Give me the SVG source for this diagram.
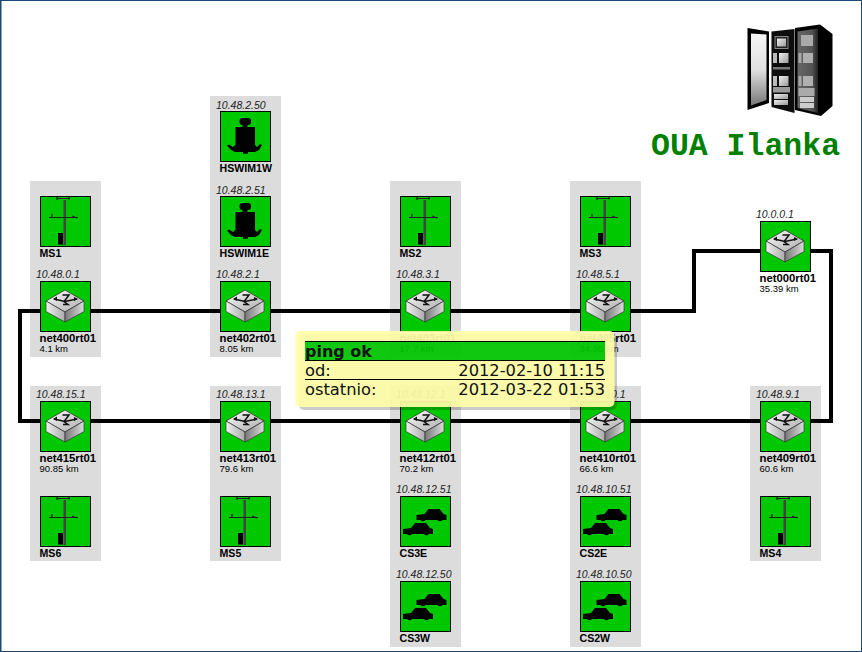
<svg xmlns="http://www.w3.org/2000/svg" width="862" height="652" viewBox="0 0 862 652">
<style>
.bg{fill:#dcdcdc}
.box{fill:#00c800;stroke:#000;stroke-width:1}
.ip{font:italic 10.5px "Liberation Sans",Arial,sans-serif;fill:#222}
.nm{font:bold 11.3px "Liberation Sans",Arial,sans-serif;fill:#000}
.up{font-size:10.6px}
.km{font:9.5px "Liberation Sans",Arial,sans-serif;fill:#000}
.link{fill:none;stroke:#000;stroke-width:4}
.tt{font:16.300px "DejaVu Sans",sans-serif;fill:#111}
.ttb{font-weight:bold;font-size:16px}
</style>
<defs>
<linearGradient id="rt" x1="0" y1="0" x2="1" y2="1"><stop offset="0" stop-color="#fff"/><stop offset="1" stop-color="#a8a8a8"/></linearGradient>
<linearGradient id="rl" x1="0" y1="0" x2="1" y2="0"><stop offset="0" stop-color="#f0f0f0"/><stop offset="1" stop-color="#aaa"/></linearGradient>
<linearGradient id="rr" x1="0" y1="0" x2="1" y2="0"><stop offset="0" stop-color="#777"/><stop offset="1" stop-color="#ddd"/></linearGradient>
<linearGradient id="door" x1="0" y1="0" x2="0" y2="1"><stop offset="0" stop-color="#f6f6f6"/><stop offset="0.5" stop-color="#e0e0e0"/><stop offset="1" stop-color="#777"/></linearGradient>
<linearGradient id="unit" x1="0" y1="0" x2="1" y2="1"><stop offset="0" stop-color="#f0f0f0"/><stop offset="1" stop-color="#9a9a9a"/></linearGradient>
<linearGradient id="face" x1="0" y1="0" x2="1" y2="0"><stop offset="0" stop-color="#666"/><stop offset=".7" stop-color="#555"/><stop offset="1" stop-color="#222"/></linearGradient>
<filter id="soft" x="-5%" y="-5%" width="110%" height="110%"><feGaussianBlur stdDeviation=".35"/></filter>
<g id="router">
<path d="M6 20 25 9 44 20 25 31Z" fill="url(#rt)" stroke="#222" stroke-width=".7"/>
<path d="M6 20 25 31V41L6 30.500Z" fill="url(#rl)" stroke="#333" stroke-width=".7"/>
<path d="M44 20 25 31V41L44 30.500Z" fill="url(#rr)" stroke="#333" stroke-width=".7"/>
<path d="M22.500 14H29L26 18 24 20.500 28 23.500H23M14 18 25 20.500 37 18" stroke="#111" stroke-width="1.500" fill="none"/>
<path d="M13 18 17 15.500 17 20ZM38 18 34 16 34 20Z" fill="#111"/>
</g>
<g id="pole" fill="#222">
<rect x="23.500" y="4" width="2.500" height="45" fill="#444"/>
<path d="M17 2.500H30M9 21.500H38" stroke="#222" stroke-width="1" fill="none"/>
<path d="M17 1V4M29 0.500V3.500M12 18V21M32 20 37 22" stroke="#222" stroke-width="1.300" fill="none"/>
<rect x="18" y="37" width="5" height="11.500" fill="#000"/>
</g>
<g id="scale" fill="#000">
<rect x="19.500" y="7" width="11.500" height="7" rx="3"/>
<rect x="22.500" y="13" width="5" height="4"/>
<path d="M15.500 16H35V34L37 36 40 33 42 34 39 39 35 41H28V42.700H23V41H15L11 39 7 34.500 9 33.500 13 36 15.500 34Z"/>
</g>
<path id="car" d="M0 7 8 6 12 1H23L27 6 30 7V12H26A3 3 0 0 1 21 12H9A3 3 0 0 1 4 12H0Z" fill="#000"/>
<g id="cars"><use href="#car" x="16.500" y="12"/><use href="#car" x="3" y="26"/></g>
</defs>
<rect width="862" height="652" fill="#fff"/>
<path d="M0 .5H862M861.500 0V652M0 651.500H862" fill="none" stroke="#1a4a78" stroke-width="1"/>
<rect x="0" y="0" width="1.500" height="652" fill="#1a4a78"/>
<g id="columns">
<rect class="bg" x="30" y="181" width="71" height="176"/>
<rect class="bg" x="210" y="96" width="71" height="261"/>
<rect class="bg" x="390" y="181" width="71" height="176"/>
<rect class="bg" x="570" y="181" width="71" height="176"/>
<rect class="bg" x="30" y="386" width="71" height="175"/>
<rect class="bg" x="210" y="386" width="71" height="175"/>
<rect class="bg" x="390" y="386" width="71" height="261"/>
<rect class="bg" x="570" y="386" width="71" height="261"/>
<rect class="bg" x="750" y="386" width="71" height="175"/>
</g>
<g id="connectors">
<path class="link" d="M20 311H694V251H831V421H20Z"/>
</g>
<g id="n-hswim1w" transform="translate(220,111)"><rect class="box" x=".5" y=".5" width="50" height="50"/><use href="#scale"/><text class="ip" x="-4" y="-2.500">10.48.2.50</text><text class="nm up" x="-.5" y="61">HSWIM1W</text></g>
<g id="n-hswim1e" transform="translate(220,196)"><rect class="box" x=".5" y=".5" width="50" height="50"/><use href="#scale"/><text class="ip" x="-4" y="-2.500">10.48.2.51</text><text class="nm up" x="-.5" y="61">HSWIM1E</text></g>
<g id="n-ms1" transform="translate(40,196)"><rect class="box" x=".5" y=".5" width="50" height="50"/><use href="#pole"/><text class="nm up" x="-.5" y="61">MS1</text></g>
<g id="n-ms2" transform="translate(400,196)"><rect class="box" x=".5" y=".5" width="50" height="50"/><use href="#pole"/><text class="nm up" x="-.5" y="61">MS2</text></g>
<g id="n-ms3" transform="translate(580,196)"><rect class="box" x=".5" y=".5" width="50" height="50"/><use href="#pole"/><text class="nm up" x="-.5" y="61">MS3</text></g>
<g id="n-net400" transform="translate(40,281)"><rect class="box" x=".5" y=".5" width="50" height="50"/><use href="#router"/><text class="ip" x="-4" y="-3">10.48.0.1</text><text class="nm" x="-.5" y="61">net400rt01</text><text class="km" x="-.5" y="70.500">4.1 km</text></g>
<g id="n-net402" transform="translate(220,281)"><rect class="box" x=".5" y=".5" width="50" height="50"/><use href="#router"/><text class="ip" x="-4" y="-3">10.48.2.1</text><text class="nm" x="-.5" y="61">net402rt01</text><text class="km" x="-.5" y="70.500">8.05 km</text></g>
<g id="n-net403" transform="translate(400,281)"><rect class="box" x=".5" y=".5" width="50" height="50"/><use href="#router"/><text class="ip" x="-4" y="-3">10.48.3.1</text><text class="nm" x="-.5" y="61">net403rt01</text><text class="km" x="-.5" y="70.500">17.7 km</text></g>
<g id="n-net405" transform="translate(580,281)"><rect class="box" x=".5" y=".5" width="50" height="50"/><use href="#router"/><text class="ip" x="-4" y="-3">10.48.5.1</text><text class="nm" x="-.5" y="61">net405rt01</text><text class="km" x="-.5" y="70.500">34.35 km</text></g>
<g id="n-net000" transform="translate(760,221)"><rect class="box" x=".5" y=".5" width="50" height="50"/><use href="#router"/><text class="ip" x="-4" y="-3">10.0.0.1</text><text class="nm" x="-.5" y="61">net000rt01</text><text class="km" x="-.5" y="70.500">35.39 km</text></g>
<g id="n-net415" transform="translate(40,401)"><rect class="box" x=".5" y=".5" width="50" height="50"/><use href="#router"/><text class="ip" x="-4" y="-3">10.48.15.1</text><text class="nm" x="-.5" y="61">net415rt01</text><text class="km" x="-.5" y="70.500">90.85 km</text></g>
<g id="n-net413" transform="translate(220,401)"><rect class="box" x=".5" y=".5" width="50" height="50"/><use href="#router"/><text class="ip" x="-4" y="-3">10.48.13.1</text><text class="nm" x="-.5" y="61">net413rt01</text><text class="km" x="-.5" y="70.500">79.6 km</text></g>
<g id="n-net412" transform="translate(400,401)"><rect class="box" x=".5" y=".5" width="50" height="50"/><use href="#router"/><text class="ip" x="-4" y="-3">10.48.12.1</text><text class="nm" x="-.5" y="61">net412rt01</text><text class="km" x="-.5" y="70.500">70.2 km</text></g>
<g id="n-net410" transform="translate(580,401)"><rect class="box" x=".5" y=".5" width="50" height="50"/><use href="#router"/><text class="ip" x="-4" y="-3">10.48.10.1</text><text class="nm" x="-.5" y="61">net410rt01</text><text class="km" x="-.5" y="70.500">66.6 km</text></g>
<g id="n-net409" transform="translate(760,401)"><rect class="box" x=".5" y=".5" width="50" height="50"/><use href="#router"/><text class="ip" x="-4" y="-3">10.48.9.1</text><text class="nm" x="-.5" y="61">net409rt01</text><text class="km" x="-.5" y="70.500">60.6 km</text></g>
<g id="n-ms6" transform="translate(40,496)"><rect class="box" x=".5" y=".5" width="50" height="50"/><use href="#pole"/><text class="nm up" x="-.5" y="61">MS6</text></g>
<g id="n-ms5" transform="translate(220,496)"><rect class="box" x=".5" y=".5" width="50" height="50"/><use href="#pole"/><text class="nm up" x="-.5" y="61">MS5</text></g>
<g id="n-ms4" transform="translate(760,496)"><rect class="box" x=".5" y=".5" width="50" height="50"/><use href="#pole"/><text class="nm up" x="-.5" y="61">MS4</text></g>
<g id="n-cs3e" transform="translate(400,496)"><rect class="box" x=".5" y=".5" width="50" height="50"/><use href="#cars"/><text class="ip" x="-4" y="-3">10.48.12.51</text><text class="nm up" x="-.5" y="61">CS3E</text></g>
<g id="n-cs3w" transform="translate(400,581)"><rect class="box" x=".5" y=".5" width="50" height="50"/><use href="#cars"/><text class="ip" x="-4" y="-3">10.48.12.50</text><text class="nm up" x="-.5" y="61">CS3W</text></g>
<g id="n-cs2e" transform="translate(580,496)"><rect class="box" x=".5" y=".5" width="50" height="50"/><use href="#cars"/><text class="ip" x="-4" y="-3">10.48.10.51</text><text class="nm up" x="-.5" y="61">CS2E</text></g>
<g id="n-cs2w" transform="translate(580,581)"><rect class="box" x=".5" y=".5" width="50" height="50"/><use href="#cars"/><text class="ip" x="-4" y="-3">10.48.10.50</text><text class="nm up" x="-.5" y="61">CS2W</text></g>
<g id="rack" filter="url(#soft)">
<path d="M747.500 28 769 31.500V103L747.500 110Z" fill="#000"/>
<path d="M751 33.500 766.500 34.500V100L751 105.500Z" fill="url(#door)"/>
<path d="M771.500 31.500 794.500 29V113L771.500 107Z" fill="#0c0c0c"/>
<path d="M795 28 820 24.500 832.500 34V106L821 116 795 110Z" fill="#000"/>
<path d="M797.500 31.500 818 28.500V113L797.500 108Z" fill="url(#face)"/>
<rect x="775" y="36.500" width="13" height="12" fill="#222" stroke="#888"/><rect x="777" y="38.500" width="9" height="8" fill="url(#unit)"/>
<rect x="773" y="53" width="4" height="10" fill="#bbb"/><rect x="779" y="53" width="9.500" height="10" fill="url(#unit)"/>
<rect x="773" y="67" width="17" height="2.500" fill="#777"/>
<rect x="773" y="76" width="4" height="10" fill="#bbb"/><rect x="779" y="76" width="9.500" height="10" fill="url(#unit)"/>
<rect x="773" y="87" width="17" height="5.500" fill="#999"/>
<rect x="774" y="94" width="14" height="5" fill="url(#unit)"/><rect x="774" y="100" width="14" height="5" fill="url(#unit)"/>
<rect x="801" y="35" width="12" height="11" fill="#aaa"/>
<rect x="798.500" y="53" width="3" height="10" fill="#aaa"/><rect x="803" y="53" width="10" height="10" fill="#b0b0b0"/>
<rect x="798.500" y="76" width="3" height="10" fill="#aaa"/><rect x="803" y="76" width="10" height="10" fill="#b0b0b0"/>
<rect x="798.500" y="88" width="16" height="8" fill="#aaa"/><rect x="800" y="97" width="14" height="5" fill="#ccc"/><rect x="800" y="103" width="14" height="5" fill="#ccc"/>
</g>
<text id="title" x="651" y="155" font-family="'Liberation Mono',monospace" font-weight="bold" font-size="31.500" fill="#008000">OUA Ilanka</text>
<g id="tooltip">
<rect x="299" y="334" width="318" height="76" rx="5" fill="#000" opacity=".2" filter="url(#soft)"/>
<g opacity=".92">
<rect x="295.500" y="331" width="319" height="76" rx="5" fill="#ffffa8"/>
<rect x="305" y="341" width="300" height="19" fill="#00c800"/>
</g>
<path d="M305 341.500H605M305 360.500H605M305 379.500H605" stroke="#000" stroke-width="1"/>
<text class="tt ttb" x="305" y="357">ping ok</text>
<text class="tt" x="305" y="376">od:</text>
<text class="tt" x="605" y="376" text-anchor="end">2012-02-10 11:15</text>
<text class="tt" x="305" y="395">ostatnio:</text>
<text class="tt" x="605" y="395" text-anchor="end">2012-03-22 01:53</text>
</g>
</svg>
